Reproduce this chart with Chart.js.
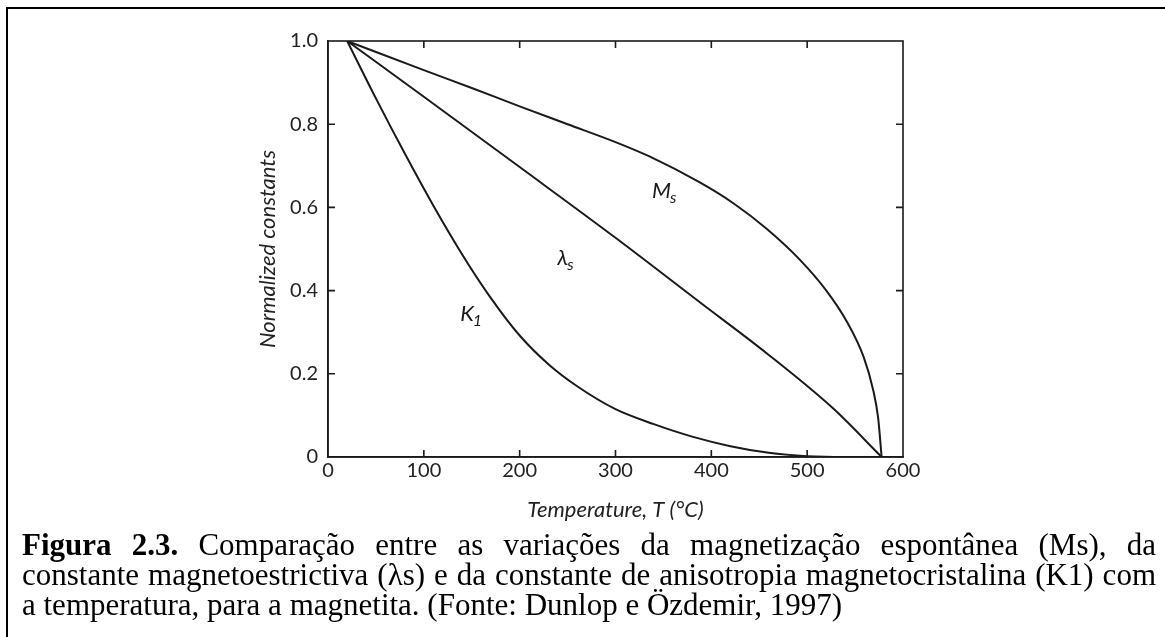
<!DOCTYPE html>
<html>
<head>
<meta charset="utf-8">
<script src="https://cdn.jsdelivr.net/npm/chart.js@4"></script>
<style>
  body { margin: 0; background: #fff; width: 1165px; height: 637px; overflow: hidden; position: relative; }
  #frame { position: absolute; left: 6px; top: 7px; width: 1200px; height: 700px; border-left: 2px solid #000; border-top: 2px solid #000; }
  #chart { position: absolute; left: 0; top: 0; }
  .cap { position: absolute; left: 22px; top: 530px; width: 1134px; font-family: "Liberation Serif", "Times New Roman", serif; font-size: 31px; line-height: 30px; color: #000; }
  .cap .j { text-align: justify; text-align-last: justify; }
</style>
</head>
<body>
<div id="frame"></div>
<canvas id="chart" width="1165" height="530"></canvas>
<div class="cap">
  <div class="j"><b>Figura 2.3.</b> Comparação entre as variações da magnetização espontânea (Ms), da</div>
  <div class="j">constante magnetoestrictiva (λs) e da constante de anisotropia magnetocristalina (K1) com</div>
  <div>a temperatura, para a magnetita. (Fonte: Dunlop e Özdemir, 1997)</div>
</div>
<script>
// temperatures (°C) and normalized values
var msTemps = [20, 100, 150, 200, 250, 300, 336, 388, 423, 458, 492, 520, 541, 559, 569, 574, 577.7];
var msValues = [1.0, 0.930, 0.887, 0.843, 0.800, 0.757, 0.722, 0.660, 0.610, 0.548, 0.475, 0.400, 0.327, 0.240, 0.160, 0.095, 0];

var lsTemps = [20, 100, 200, 300, 388, 458, 527, 577.7];
var lsValues = [1.0, 0.866, 0.697, 0.527, 0.372, 0.249, 0.117, 0];

var k1Temps = [20, 50, 80, 110, 140, 170, 200, 230, 260, 300, 340, 380, 420, 460, 500, 540, 577.7];
var k1Values = [1.0, 0.862, 0.730, 0.604, 0.487, 0.382, 0.292, 0.223, 0.170, 0.115, 0.079, 0.049, 0.026, 0.010, 0.002, 0, 0];

var xTicks = [0, 100, 200, 300, 400, 500, 600];
var yTicks = [0, 0.2, 0.4, 0.6, 0.8, 1.0];
var yTickLabels = ['0', '0.2', '0.4', '0.6', '0.8', '1.0'];

// curve labels: [main, subscript, T, value]
var curveLabels = [
  ['M', 's', 348, 0.639],
  ['λ', 's', 245, 0.478],
  ['K', '1', 145, 0.344]
];

function pts(xs, ys) {
  return xs.map(function (t, i) { return { x: t, y: ys[i] }; });
}

var ink = '#1a1a1a';

var framePlugin = {
  id: 'frame',
  afterDraw: function (chart) {
    var ctx = chart.ctx, a = chart.chartArea;
    var x = chart.scales.x, y = chart.scales.y;
    ctx.save();
    ctx.strokeStyle = ink;
    ctx.lineWidth = 1.6;
    ctx.strokeRect(a.left, a.top, a.right - a.left, a.bottom - a.top);
    ctx.beginPath();
    xTicks.slice(1, -1).forEach(function (v) {
      var px = x.getPixelForValue(v);
      ctx.moveTo(px, a.bottom); ctx.lineTo(px, a.bottom - 7);
      ctx.moveTo(px, a.top); ctx.lineTo(px, a.top + 7);
    });
    yTicks.slice(1, -1).forEach(function (v) {
      var py = y.getPixelForValue(v);
      ctx.moveTo(a.left, py); ctx.lineTo(a.left + 7, py);
      ctx.moveTo(a.right, py); ctx.lineTo(a.right - 7, py);
    });
    ctx.stroke();

    ctx.fillStyle = ink;
    ctx.textBaseline = 'middle';
    curveLabels.forEach(function (l) {
      var px = x.getPixelForValue(l[2]), py = y.getPixelForValue(l[3]);
      ctx.font = 'italic 22px Lato';
      ctx.textAlign = 'center';
      ctx.fillText(l[0], px, py);
      var w = ctx.measureText(l[0]).width;
      ctx.font = 'italic 16px Lato';
      ctx.textAlign = 'left';
      ctx.fillText(l[1], px + w / 2 - 1, py + 7);
    });
    ctx.restore();
  }
};

var lineStyle = {
  borderColor: ink,
  borderWidth: 2,
  pointRadius: 0,
  fill: false,
  cubicInterpolationMode: 'monotone'
};

new Chart(document.getElementById('chart').getContext('2d'), {
  type: 'line',
  data: {
    datasets: [
      Object.assign({ label: 'Ms', data: pts(msTemps, msValues) }, lineStyle),
      Object.assign({ label: 'λs', data: pts(lsTemps, lsValues) }, lineStyle),
      Object.assign({ label: 'K1', data: pts(k1Temps, k1Values) }, lineStyle)
    ]
  },
  options: {
    responsive: false,
    animation: false,
    devicePixelRatio: 1,
    layout: { padding: { left: 255, right: 262, top: 41, bottom: 7 } },
    plugins: { legend: { display: false }, tooltip: { enabled: false } },
    scales: {
      x: {
        type: 'linear',
        min: 0,
        max: 600,
        afterFit: function (s) { s.height = 66; },
        afterBuildTicks: function (s) { s.ticks = xTicks.map(function (v) { return { value: v }; }); },
        grid: { display: false, drawTicks: false },
        border: { display: true, color: ink, width: 1.6 },
        ticks: { padding: 2, color: '#222', font: { family: 'Lato', size: 20 } },
        title: {
          display: true,
          text: 'Temperature, T (°C)',
          color: '#222',
          padding: 0,
          font: { family: 'Lato', size: 22, style: 'italic' }
        }
      },
      y: {
        type: 'linear',
        min: 0,
        max: 1,
        afterFit: function (s) { s.width = 73; },
        afterBuildTicks: function (s) { s.ticks = yTicks.map(function (v) { return { value: v }; }); },
        grid: { display: false, drawTicks: false },
        border: { display: true, color: ink, width: 1.6 },
        ticks: {
          padding: 10,
          color: '#222',
          font: { family: 'Lato', size: 20 },
          callback: function (v, i) { return yTickLabels[i]; }
        },
        title: {
          display: true,
          text: 'Normalized constants',
          color: '#222',
          padding: 0,
          font: { family: 'Lato', size: 22, style: 'italic' }
        }
      }
    }
  },
  plugins: [framePlugin]
});
</script>
</body>
</html>
